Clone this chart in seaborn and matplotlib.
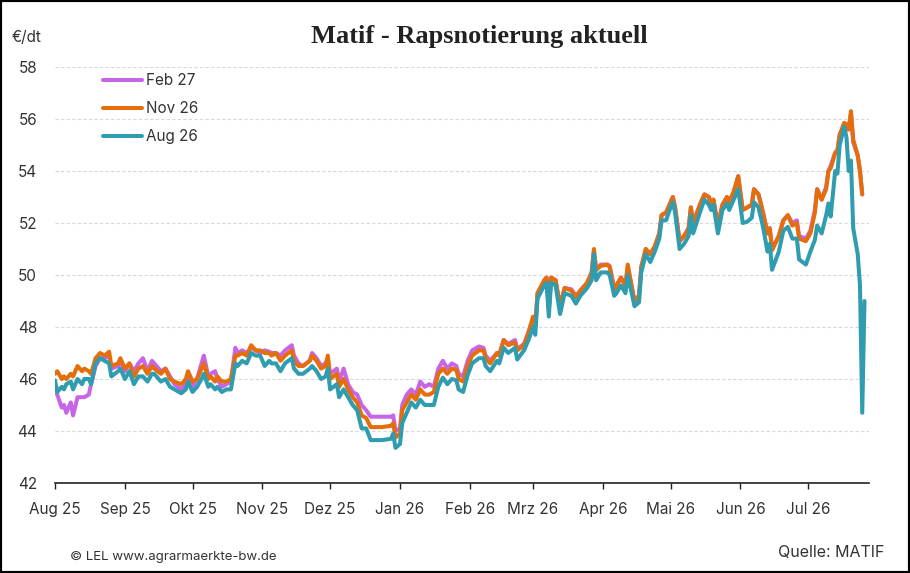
import pandas as pd
import numpy as np
import seaborn as sns
import matplotlib.pyplot as plt
from matplotlib.patches import Rectangle

# Matif Raps, Schlusskurse je Kontrakt (EUR/dt)
dates = [
    "2025-08-01", "2025-08-02", "2025-08-04", "2025-08-05", "2025-08-06", "2025-08-08", "2025-08-09",
    "2025-08-11", "2025-08-13", "2025-08-14", "2025-08-16", "2025-08-17", "2025-08-19", "2025-08-21",
    "2025-08-23", "2025-08-25", "2025-08-26", "2025-08-29", "2025-08-30", "2025-09-01", "2025-09-03",
    "2025-09-05", "2025-09-07", "2025-09-09", "2025-09-11", "2025-09-13", "2025-09-14", "2025-09-17",
    "2025-09-19", "2025-09-21", "2025-09-23", "2025-09-26", "2025-09-28", "2025-09-29", "2025-10-01",
    "2025-10-03", "2025-10-05", "2025-10-06", "2025-10-08", "2025-10-09", "2025-10-11", "2025-10-12",
    "2025-10-14", "2025-10-16", "2025-10-18", "2025-10-20", "2025-10-21", "2025-10-23", "2025-10-25",
    "2025-10-27", "2025-10-29", "2025-10-31", "2025-11-02", "2025-11-04", "2025-11-05", "2025-11-07",
    "2025-11-09", "2025-11-11", "2025-11-14", "2025-11-15", "2025-11-17", "2025-11-19", "2025-11-22",
    "2025-11-23", "2025-11-25", "2025-11-27", "2025-11-29", "2025-11-30", "2025-12-01", "2025-12-04",
    "2025-12-05", "2025-12-07", "2025-12-09", "2025-12-11", "2025-12-13", "2025-12-15", "2025-12-17",
    "2025-12-19", "2025-12-22", "2025-12-24", "2025-12-28", "2025-12-29", "2025-12-30", "2026-01-01",
    "2026-01-02", "2026-01-04", "2026-01-06", "2026-01-08", "2026-01-10", "2026-01-12", "2026-01-14",
    "2026-01-16", "2026-01-18", "2026-01-20", "2026-01-22", "2026-01-24",
    "2026-01-26", "2026-01-27", "2026-01-29", "2026-01-31", "2026-02-02", "2026-02-05", "2026-02-07",
    "2026-02-08", "2026-02-10", "2026-02-13", "2026-02-14", "2026-02-16", "2026-02-18", "2026-02-21",
    "2026-02-22", "2026-02-25", "2026-02-27", "2026-03-01", "2026-03-02", "2026-03-03", "2026-03-06",
    "2026-03-07", "2026-03-08", "2026-03-09", "2026-03-11", "2026-03-13", "2026-03-15", "2026-03-18",
    "2026-03-20", "2026-03-22", "2026-03-25", "2026-03-27", "2026-03-28", "2026-03-29", "2026-03-31",
    "2026-04-03", "2026-04-04", "2026-04-06", "2026-04-07", "2026-04-09", "2026-04-11", "2026-04-12",
    "2026-04-15", "2026-04-17", "2026-04-18", "2026-04-20", "2026-04-22", "2026-04-24", "2026-04-26",
    "2026-04-27", "2026-04-29", "2026-05-01", "2026-05-02", "2026-05-03", "2026-05-05", "2026-05-07",
    "2026-05-09", "2026-05-10", "2026-05-11", "2026-05-14", "2026-05-16", "2026-05-18", "2026-05-19",
    "2026-05-20", "2026-05-22", "2026-05-24", "2026-05-26", "2026-05-27", "2026-05-29", "2026-05-31",
    "2026-06-02", "2026-06-04", "2026-06-06", "2026-06-07", "2026-06-09", "2026-06-11", "2026-06-13",
    "2026-06-14", "2026-06-15", "2026-06-18", "2026-06-20", "2026-06-22", "2026-06-24", "2026-06-26",
    "2026-06-27", "2026-06-30", "2026-07-02", "2026-07-04", "2026-07-05", "2026-07-07", "2026-07-09",
    "2026-07-10", "2026-07-11", "2026-07-13", "2026-07-14", "2026-07-15", "2026-07-17", "2026-07-18",
    "2026-07-19", "2026-07-20", "2026-07-21", "2026-07-23", "2026-07-24", "2026-07-25", "2026-07-26",
]

aug26 = [
    45.95, 45.5, 45.7, 45.6, 45.8, 45.9, 45.6, 46.0, 45.8, 46.0, 46.0, 45.8, 46.6, 46.8,
    46.7, 46.6, 46.1, 46.3, 46.4, 46.0, 46.3, 45.8, 46.1, 46.1, 45.9, 46.2, 46.2, 45.9,
    46.0, 45.7, 45.6, 45.45, 45.6, 45.9, 45.5, 45.7, 46.0, 46.2, 45.7, 45.8, 45.6, 45.7,
    45.5, 45.6, 45.6, 46.6, 46.5, 46.7, 46.6, 47.0, 46.9, 46.9, 46.5, 46.7, 46.6, 46.6,
    46.3, 46.6, 46.8, 46.4, 46.2, 46.2, 46.4, 46.5, 46.3, 46.0, 46.1, 46.4, 45.6, 45.8,
    45.3, 45.6, 45.3, 45.0, 44.8, 44.1, 44.1, 43.65, 43.65, 43.65, 43.7, 43.9, 43.35, 43.5,
    44.3, 44.7, 45.1, 44.9, 45.2, 45.0, 45.0, 45.0, 45.7, 46.05, 45.8, 46.0,
    45.95, 45.6, 45.5, 46.15, 46.6, 46.8, 46.8, 46.5, 46.3, 46.7, 46.6, 47.2, 47.0, 47.2,
    46.75, 47.1, 47.5, 48.0, 47.7, 49.1, 49.6, 49.7, 48.4, 49.7, 49.6, 48.5, 49.3, 49.2,
    48.9, 49.2, 49.5, 49.8, 50.8, 49.8, 50.1, 50.1, 50.0, 49.2, 49.3, 49.6, 49.3, 50.0,
    48.8, 48.95, 50.1, 50.8, 50.5, 50.9, 51.4, 52.1, 52.1, 52.6, 52.8, 52.4, 51.0, 51.2,
    51.5, 52.3, 51.6, 52.4, 52.9, 52.7, 52.5, 52.7, 51.6, 52.5, 52.75, 52.5, 52.9, 53.3,
    52.0, 52.05, 52.2, 52.8, 52.6, 51.85, 50.9, 51.2, 50.2, 50.9, 51.7, 51.85, 51.4, 51.4,
    50.6, 50.4, 50.9, 51.35, 51.9, 51.6, 52.3, 52.75, 52.25, 54.0, 53.9, 55.0, 55.7, 55.3,
    54.0, 54.4, 51.8, 50.8, 49.6, 44.7, 49.0,
]

nov26 = [
    46.2, 46.3, 46.0, 46.1, 46.0, 46.2, 46.1, 46.5, 46.3, 46.4, 46.3, 46.2, 46.8, 47.0,
    46.9, 47.05, 46.5, 46.6, 46.8, 46.4, 46.6, 46.1, 46.4, 46.5, 46.2, 46.5, 46.4, 46.2,
    46.4, 46.0, 45.9, 45.8, 46.0, 46.3, 45.9, 46.0, 46.4, 46.6, 46.0, 46.1, 45.9, 46.1,
    45.9, 45.9, 46.0, 46.9, 46.9, 47.0, 46.9, 47.3, 47.1, 47.1, 47.0, 47.0, 46.9, 47.0,
    46.7, 46.9, 47.1, 46.7, 46.5, 46.5, 46.7, 46.9, 46.7, 46.4, 46.5, 46.9, 46.0, 46.2,
    45.7, 46.0, 45.6, 45.3, 45.1, 44.6, 44.5, 44.15, 44.15, 44.15, 44.2, 44.3, 43.75, 43.9,
    44.8, 45.1, 45.4, 45.2, 45.6, 45.4, 45.4, 45.5, 46.2, 46.4, 46.2, 46.4,
    46.35, 46.0, 45.9, 46.5, 46.9, 47.1, 47.1, 46.8, 46.6, 47.0, 46.9, 47.5, 47.3, 47.4,
    47.1, 47.3, 47.8, 48.4, 48.1, 49.3, 49.8, 49.9, 48.7, 49.9, 49.8, 48.8, 49.5, 49.4,
    49.15, 49.4, 49.7, 50.1, 51.0, 50.2, 50.35, 50.4, 50.3, 49.4, 49.6, 49.9, 49.6, 50.4,
    49.0, 49.2, 50.3, 51.0, 50.8, 51.1, 51.6, 52.3, 52.4, 52.8, 53.0, 52.6, 51.3, 51.5,
    51.8, 52.6, 52.0, 52.7, 53.1, 53.0, 52.7, 52.9, 51.9, 52.7, 53.0, 52.8, 53.2, 53.8,
    52.5, 52.6, 52.7, 53.3, 53.1, 52.4, 51.6, 51.8, 50.95, 51.5, 52.1, 52.3, 51.9, 52.0,
    51.4, 51.3, 51.6, 52.4, 53.3, 52.9, 53.3, 54.0, 54.1, 54.7, 54.8, 55.4, 55.85, 55.8,
    55.6, 56.3, 55.2, 54.6, 54.0, 53.1, None,
]

feb27 = [
    45.5, 45.4, 44.9, 45.0, 44.7, 45.1, 44.6, 45.3, 45.3, 45.3, 45.4, 45.8, 46.5, 46.8,
    46.8, 46.9, 46.4, 46.5, 46.7, 46.3, 46.6, 46.3, 46.6, 46.8, 46.3, 46.7, 46.6, 46.3,
    46.4, 46.1, 45.8, 45.6, 45.8, 46.0, 45.7, 46.0, 46.6, 46.9, 46.1, 46.2, 46.3, 46.0,
    45.7, 45.8, 45.9, 47.2, 47.0, 47.1, 47.0, 47.2, 47.1, 47.0, 47.1, 47.05, 47.0, 47.0,
    46.9, 47.1, 47.3, 46.9, 46.6, 46.5, 46.7, 47.0, 46.8, 46.5, 46.6, 46.8, 46.2, 46.4,
    45.9, 46.4, 45.8, 45.5, 45.4, 45.0, 44.8, 44.55, 44.55, 44.55, 44.55, 44.6, 44.0, 44.1,
    45.0, 45.4, 45.6, 45.4, 45.9, 45.7, 45.8, 45.7, 46.4, 46.7, 46.4, 46.6,
    46.5, 46.2, 46.1, 46.7, 47.1, 47.25, 47.2, 46.9, 46.7, 47.0, 46.95, 47.5, 47.35, 47.5,
    47.15, 47.35, 47.8, 48.3, 48.0, 49.3, 49.8, 49.9, 48.7, 49.9, 49.8, 48.8, 49.5, 49.45,
    49.2, 49.4, 49.7, 50.1, 50.9, 50.2, 50.4, 50.4, 50.35, 49.5, 49.6, 49.9, 49.6, 50.3,
    49.0, 49.2, 50.3, 51.0, 50.8, 51.1, 51.6, 52.3, 52.4, 52.8, 53.0, 52.6, 51.3, 51.5,
    51.8, 52.6, 52.0, 52.7, 53.1, 53.0, 52.7, 52.9, 51.9, 52.7, 53.0, 52.8, 53.2, 53.8,
    52.5, 52.6, 52.7, 53.3, 53.1, 52.4, 51.6, 51.8, 51.0, 51.5, 52.1, 52.3, 52.0, 52.1,
    51.5, 51.4, 51.7, 52.5, 53.3, 52.9, 53.4, 54.0, 54.2, 54.7, 54.8, 55.4, 55.7, 55.6,
    55.6, 56.2, 55.1, 54.6, 54.0, 53.1, None,
]

series_names = ["Feb 27", "Nov 26", "Aug 26"]
series_colors = ["#c864e6", "#e66e0a", "#2f9cb0"]

month_ticks = ["2025-08-01", "2025-09-01", "2025-10-01", "2025-11-01", "2025-12-01", "2026-01-01",
               "2026-02-01", "2026-03-01", "2026-04-01", "2026-05-01", "2026-06-01", "2026-07-01"]
month_labels = ["Aug 25", "Sep 25", "Okt 25", "Nov 25", "Dez 25", "Jan 26",
                "Feb 26", "Mrz 26", "Apr 26", "Mai 26", "Jun 26", "Jul 26"]
y_ticks = [42, 44, 46, 48, 50, 52, 54, 56, 58]

df = pd.DataFrame({"Datum": pd.to_datetime(dates), "Feb 27": feb27, "Nov 26": nov26, "Aug 26": aug26})
long = df.melt(id_vars="Datum", var_name="Kontrakt", value_name="Preis").dropna()

sns.set_theme(style="white")
plt.rcParams["font.family"] = ["Inter", "DejaVu Sans"]
plt.rcParams["lines.solid_joinstyle"] = "round"
plt.rcParams["lines.solid_capstyle"] = "round"

fig = plt.figure(figsize=(9.1, 5.73), dpi=100)
ax = fig.add_axes([55 / 910, 90 / 573, 814 / 910, 416 / 573])

sns.lineplot(data=long, x="Datum", y="Preis", hue="Kontrakt", hue_order=series_names,
             palette=series_colors, linewidth=2.9, ax=ax)

ax.set_ylim(42, 58)
ax.set_yticks(y_ticks)
ax.set_xlim(pd.Timestamp("2025-08-01"), pd.Timestamp("2026-07-28"))
ax.set_xticks(pd.to_datetime(month_ticks))
ax.set_xticklabels(month_labels)
ax.set_xlabel("")
ax.set_ylabel("")

ax.grid(axis="y", color="#d8d8d8", linestyle=(0, (3, 2)), linewidth=0.8)
ax.set_axisbelow(True)
for side in ["left", "right", "top"]:
    ax.spines[side].set_visible(False)
ax.spines["bottom"].set_color("#222222")
ax.spines["bottom"].set_linewidth(1.2)

ax.tick_params(axis="x", which="both", bottom=True, direction="out", length=4.5, width=1,
               color="#222222", pad=9, labelsize=11, labelcolor="#333333")
ax.tick_params(axis="y", length=0, pad=13, labelsize=11, labelcolor="#333333")

handles, labels = ax.get_legend_handles_labels()
ax.legend(handles, labels, loc="upper left", bbox_to_anchor=(0.049, 1.003), frameon=False,
          borderpad=0, handlelength=2.6, handletextpad=0.25, labelspacing=0.85,
          fontsize=11, labelcolor="#333333")

fig.text(0.527, 1 - 36 / 573, "Matif - Rapsnotierung aktuell", ha="center", va="center",
         fontfamily="Liberation Serif", fontweight="bold", fontsize=19, color="#222222")
fig.text(12 / 910, 1 - 38 / 573, "€/dt", ha="left", va="center", fontsize=11, color="#333333")
fig.text(70 / 910, 1 - 557 / 573, "© LEL www.agrarmaerkte-bw.de", ha="left", va="center",
         fontsize=9.5, color="#333333")
fig.text(884 / 910, 1 - 553 / 573, "Quelle: MATIF", ha="right", va="center",
         fontsize=11.5, color="#333333")

fig.add_artist(Rectangle((0, 0), 1, 1, transform=fig.transFigure, fill=False,
                         edgecolor="black", linewidth=3))

fig.savefig("out.png", dpi=100)
